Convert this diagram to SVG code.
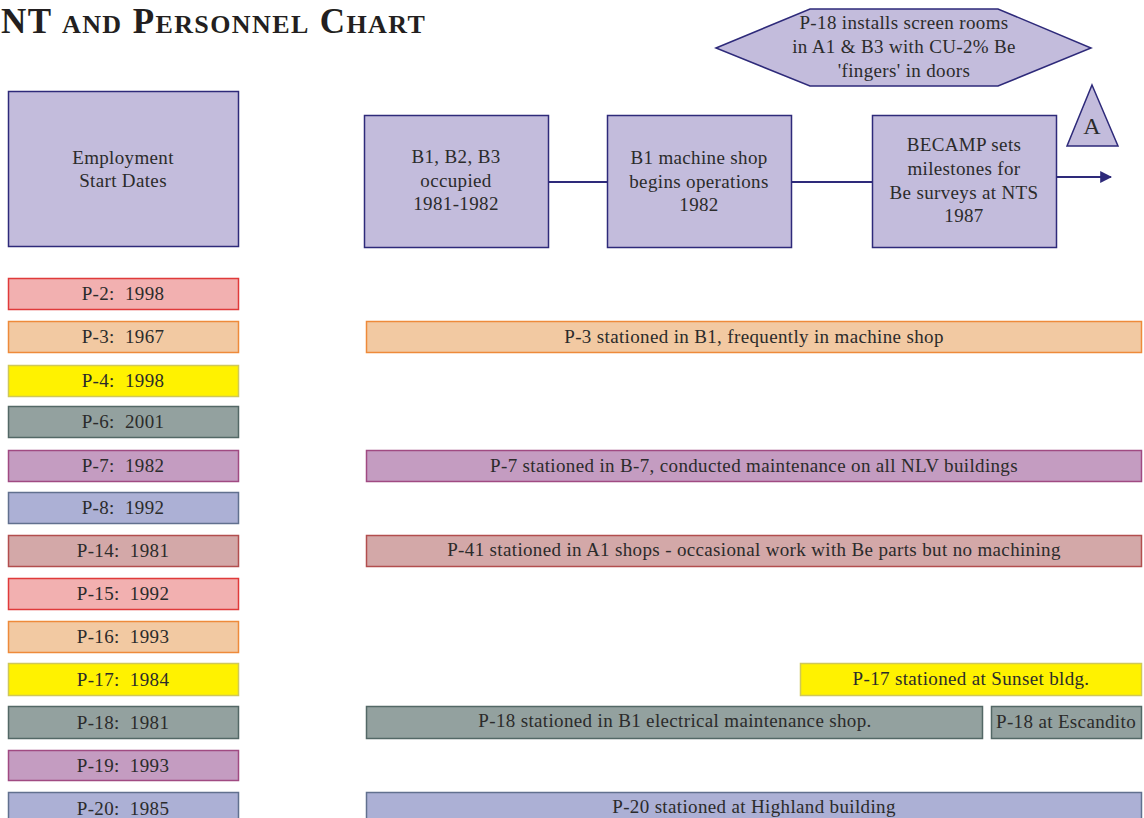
<svg xmlns="http://www.w3.org/2000/svg" width="1144" height="818" viewBox="0 0 1144 818">
  <style>
    text { font-family: "Liberation Serif", "DejaVu Serif", serif; fill: #2b2b2b; font-size: 19px; letter-spacing: 0.35px; text-anchor: middle; white-space: pre; }
    .title { font-weight: bold; font-size: 35px; letter-spacing: 1.4px; text-anchor: start; fill: #231f20; }
    .sc { font-size: 26px; }
    .node { fill: #c3bcdc; stroke: #2e2a7a; stroke-width: 1.5; }
    .conn { stroke: #2e2a7a; stroke-width: 2; fill: none; }
    .pink { fill: #f2b0b0; stroke: #e03a3a; stroke-width: 1.5; }
    .orange { fill: #f2c9a2; stroke: #ee8a3a; stroke-width: 1.5; }
    .yellow { fill: #fff200; stroke: #cfc85a; stroke-width: 1.5; }
    .slate { fill: #93a19f; stroke: #536866; stroke-width: 1.5; }
    .mauve { fill: #c49cc1; stroke: #a04a82; stroke-width: 1.5; }
    .blue { fill: #acb0d5; stroke: #61708f; stroke-width: 1.5; }
    .rose { fill: #d3a8a8; stroke: #b24e4e; stroke-width: 1.5; }
  </style>
  <defs>
    <marker id="arrow" viewBox="0 0 10 10" refX="9" refY="5" markerWidth="6" markerHeight="6" orient="auto" markerUnits="strokeWidth">
      <path d="M0,0 L10,5 L0,10 z" fill="#2e2a7a"/>
    </marker>
  </defs>

  <rect width="1144" height="818" fill="#ffffff"/>

  <!-- Title (small caps) -->
  <text class="title" x="1" y="33">NT <tspan class="sc">AND</tspan> P<tspan class="sc">ERSONNEL</tspan> C<tspan class="sc">HART</tspan></text>

  <!-- Timeline connectors -->
  <g id="connectors">
    <line class="conn" x1="548" y1="182" x2="607" y2="182"/>
    <line class="conn" x1="791" y1="182" x2="872" y2="182"/>
    <line class="conn" x1="1056" y1="177" x2="1111" y2="177" marker-end="url(#arrow)"/>
  </g>

  <!-- Header node -->
  <g id="employment">
    <rect class="node" x="8.5" y="91.5" width="230" height="155"/>
    <text x="123" y="164">Employment</text>
    <text x="123" y="187">Start Dates</text>
  </g>

  <!-- Milestone nodes -->
  <g id="m-b1b2b3">
    <rect class="node" x="364.5" y="115.5" width="184" height="132"/>
    <text x="456" y="163">B1, B2, B3</text>
    <text x="456" y="187">occupied</text>
    <text x="456" y="210">1981-1982</text>
  </g>
  <g id="m-shop">
    <rect class="node" x="607.5" y="115.5" width="184" height="132"/>
    <text x="699" y="164">B1 machine shop</text>
    <text x="699" y="188">begins operations</text>
    <text x="699" y="211">1982</text>
  </g>
  <g id="m-becamp">
    <rect class="node" x="872.5" y="115.5" width="184" height="132"/>
    <text x="964" y="151">BECAMP sets</text>
    <text x="964" y="175">milestones for</text>
    <text x="964" y="199">Be surveys at NTS</text>
    <text x="964" y="222">1987</text>
  </g>
  <g id="m-screen">
    <polygon class="node" points="716,48 810,9 998,9 1091,48 998,86 810,86"/>
    <text x="904" y="29">P-18 installs screen rooms</text>
    <text x="904" y="53">in A1 &amp; B3 with CU-2% Be</text>
    <text x="904" y="77">'fingers' in doors</text>
  </g>
  <g id="offpage-a">
    <polygon class="node" points="1092,85 1118,146 1067,146"/>
    <text x="1092" y="134" style="font-size:24px">A</text>
  </g>

  <!-- Personnel start dates -->
  <g id="p2"><rect class="pink" x="8.5" y="278.5" width="230" height="31"/><text x="123" y="300">P-2:  1998</text></g>
  <g id="p3"><rect class="orange" x="8.5" y="321.5" width="230" height="31"/><text x="123" y="343">P-3:  1967</text></g>
  <g id="p4"><rect class="yellow" x="8.5" y="365.5" width="230" height="31"/><text x="123" y="387">P-4:  1998</text></g>
  <g id="p6"><rect class="slate" x="8.5" y="406.5" width="230" height="31"/><text x="123" y="428">P-6:  2001</text></g>
  <g id="p7"><rect class="mauve" x="8.5" y="450.5" width="230" height="31"/><text x="123" y="472">P-7:  1982</text></g>
  <g id="p8"><rect class="blue" x="8.5" y="492.5" width="230" height="31"/><text x="123" y="514">P-8:  1992</text></g>
  <g id="p14"><rect class="rose" x="8.5" y="535.5" width="230" height="31"/><text x="123" y="557">P-14:  1981</text></g>
  <g id="p15"><rect class="pink" x="8.5" y="578.5" width="230" height="31"/><text x="123" y="600">P-15:  1992</text></g>
  <g id="p16"><rect class="orange" x="8.5" y="621.5" width="230" height="31"/><text x="123" y="643">P-16:  1993</text></g>
  <g id="p17"><rect class="yellow" x="8.5" y="663.5" width="230" height="32"/><text x="123" y="686">P-17:  1984</text></g>
  <g id="p18"><rect class="slate" x="8.5" y="706.5" width="230" height="32"/><text x="123" y="729">P-18:  1981</text></g>
  <g id="p19"><rect class="mauve" x="8.5" y="750.5" width="230" height="30"/><text x="123" y="772">P-19:  1993</text></g>
  <g id="p20"><rect class="blue" x="8.5" y="792.5" width="230" height="32"/><text x="123" y="815">P-20:  1985</text></g>

  <!-- Assignment bars -->
  <g id="bar-p3"><rect class="orange" x="366.5" y="321.5" width="775" height="31"/><text x="754" y="343">P-3 stationed in B1, frequently in machine shop</text></g>
  <g id="bar-p7"><rect class="mauve" x="366.5" y="450.5" width="775" height="31"/><text x="754" y="472">P-7 stationed in B-7, conducted maintenance on all NLV buildings</text></g>
  <g id="bar-p14"><rect class="rose" x="366.5" y="535.5" width="775" height="31"/><text x="754" y="556">P-41 stationed in A1 shops - occasional work with Be parts but no machining</text></g>
  <g id="bar-p17"><rect class="yellow" x="800.5" y="663.5" width="341" height="32"/><text x="971" y="685">P-17 stationed at Sunset bldg.</text></g>
  <g id="bar-p18a"><rect class="slate" x="366.5" y="706.5" width="616" height="32"/><text x="675" y="727">P-18 stationed in B1 electrical maintenance shop.</text></g>
  <g id="bar-p18b"><rect class="slate" x="991.5" y="706.5" width="150" height="32"/><text x="1066" y="728">P-18 at Escandito</text></g>
  <g id="bar-p20"><rect class="blue" x="366.5" y="792.5" width="775" height="32"/><text x="754" y="813">P-20 stationed at Highland building</text></g>
</svg>
